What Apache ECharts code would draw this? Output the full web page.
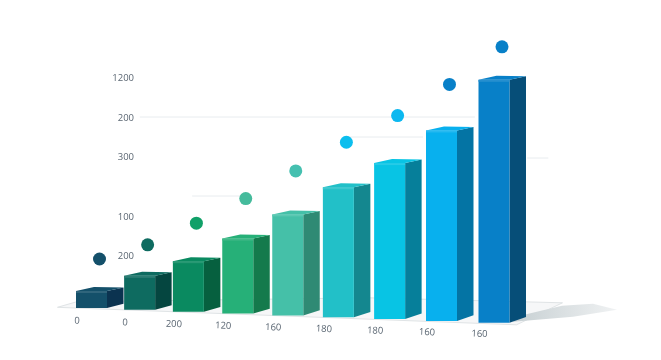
<!DOCTYPE html>
<html><head><meta charset="utf-8">
<style>html,body{margin:0;padding:0;background:#fff}#c{width:661px;height:360px}</style>
<script src="https://cdn.jsdelivr.net/npm/echarts@6/dist/echarts.min.js"></script>
</head><body><div id="c"></div>
<script>
const categories = ['0','0','200','120','160','180','180','160','160'];
const barValues = [17,34,50.5,75,101,130,156,190.5,243];
const dotValues = [49,65,88.5,115,144.5,175,203.5,236.5,276];
const yTickValues = [52,91,151,190,230];
const yTickLabels = ['200','100','300','200','1200'];
const guideLevels = [191,171,150,112];
const guideFrom = [0.96,5.14,8.66,2.0];
const guideTo = [7.62,6.59,9.08,2.95];
const frontColors = ['#14506a','#0e6b60','#0a8a60','#26b078','#45c0a8','#22c0c8','#08c4e4','#08b0ee','#0880c8'];
const sideColors = ['#0b3350','#054640','#06603f','#147a4c','#2f8a74','#14878f','#067f9a','#0474a4','#064e78'];
const dotColors = ['#14506a','#0e6b60','#10a068','#45bb9c','#45c0b0','#0cbeee','#0cb8f0','#0880c8','#0880c8'];

const FRONT = 31, SIDE = 16.5, SLOPE = 1.85, BOW = 20, LAST = categories.length - 1;
const FONT = 'Open Sans';
function project(api, i, v) {
  const p = api.coord([i, v]);
  const t = i / LAST;
  return [p[0] - BOW * t * (1 - t), p[1] + SLOPE * i];
}
function mix(hex, k) {
  const n = parseInt(hex.slice(1), 16);
  const f = c => Math.round(c + (255 - c) * k);
  return 'rgb(' + f(n >> 16) + ',' + f((n >> 8) & 255) + ',' + f(n & 255) + ')';
}
function renderBar(params, api) {
  const i = api.value(0), v = api.value(1);
  const top = project(api, i, v), base = project(api, i, 0);
  const l = top[0] - FRONT / 2, r = l + FRONT, t = top[1], b = base[1];
  const rise = 4.3 + 0.2 * i, front = frontColors[i], side = sideColors[i];
  return { type: 'group', children: [
    { type: 'polygon', shape: { points: [[r, t], [r + SIDE, t - 3.5], [r + SIDE, b - rise], [r, b]] }, style: { fill: side } },
    { type: 'polygon', shape: { points: [[l, t], [l + 18, t - 4], [r + SIDE, t - 3.5], [r, t]] }, style: { fill: front } },
    { type: 'rect', shape: { x: l, y: t, width: FRONT, height: b - t }, style: { fill: front } },
    { type: 'rect', shape: { x: l, y: t, width: FRONT, height: 2 }, style: { fill: mix(front, 0.12) } }
  ]};
}
function renderDot(params, api) {
  const i = api.value(0), p = project(api, i, api.value(1));
  return { type: 'circle', shape: { cx: p[0] + 8, cy: p[1], r: 6.5 }, style: { fill: dotColors[i] } };
}
function renderCatLabel(params, api) {
  const i = api.value(0), p = project(api, i, -13 + 0.22 * i);
  return { type: 'text', x: p[0] - FRONT / 2 + 1, y: p[1], rotation: -0.035,
    style: { text: categories[i], fill: '#5a6672', font: '9.5px "' + FONT + '"', align: 'center', verticalAlign: 'middle' } };
}
function renderGuide(params, api) {
  const a = api.coord([api.value(0), api.value(2)]), b = api.coord([api.value(1), api.value(2)]);
  return { type: 'line', shape: { x1: a[0], y1: a[1], x2: b[0], y2: b[1] }, style: { stroke: '#e8ecef', lineWidth: 1 } };
}
function renderFloor(params, api) {
  const base = project(api, LAST, 0), x = base[0], y = base[1];
  const fx = x - FRONT / 2;
  return { type: 'group', children: [
    { type: 'polygon', shape: { points: [[fx - 421, y - 15.5], [fx - 402, y - 21], [fx - 110, y - 25], [fx + 84, y - 20], [fx + 38, y + 2]] },
      style: { fill: '#f6f7f8', stroke: '#e0e4e6', lineWidth: 1 } },
    { type: 'polygon', shape: { points: [[x + 19, y - 1], [x + 79, y - 6], [x + 123, y - 13], [x + 99, y - 19], [x + 68, y - 17], [x + 26, y - 7]] },
      style: { fill: new echarts.graphic.LinearGradient(0, 0, 1, 0, [{ offset: 0, color: '#c6cfd2' }, { offset: 1, color: '#f0f2f3' }]) } }
  ]};
}
const seq = categories.map((c, i) => i);
const chart = echarts.init(document.getElementById('c'), null, { renderer: 'canvas' });
chart.setOption({
  animation: false, backgroundColor: '#fff',
  grid: { left: 66.35, width: 452.8, top: 0, bottom: 52 },
  xAxis: [
    { type: 'category', data: categories, axisLine: { show: false }, axisTick: { show: false }, axisLabel: { show: false }, splitLine: { show: false } },
    { type: 'value', min: -0.5, max: 8.5, show: false }
  ],
  yAxis: { type: 'value', min: 0, max: 308, offset: -72.65, axisLine: { show: false }, axisTick: { show: false }, splitLine: { show: false },
    axisLabel: { customValues: yTickValues, margin: 5, color: '#5a6672', fontFamily: FONT, fontSize: 9.5,
      formatter: v => yTickLabels[yTickValues.indexOf(v)] } },
  series: [
    { type: 'custom', clip: false, data: [[LAST, 0]], renderItem: renderFloor, silent: true, z: 1 },
    { type: 'custom', clip: false, xAxisIndex: 1, data: guideLevels.map((g, i) => [guideFrom[i], guideTo[i], g]), encode: { x: [0, 1], y: 2 }, renderItem: renderGuide, z: 2 },
    { type: 'custom', clip: false, data: seq.map(i => [i, barValues[i]]), renderItem: renderBar, z: 3 },
    { type: 'custom', clip: false, data: seq.map(i => [i, dotValues[i]]), renderItem: renderDot, z: 4 },
    { type: 'custom', clip: false, data: seq.map(i => [i, 0]), renderItem: renderCatLabel, z: 5 }
  ]
});
</script></body></html>
